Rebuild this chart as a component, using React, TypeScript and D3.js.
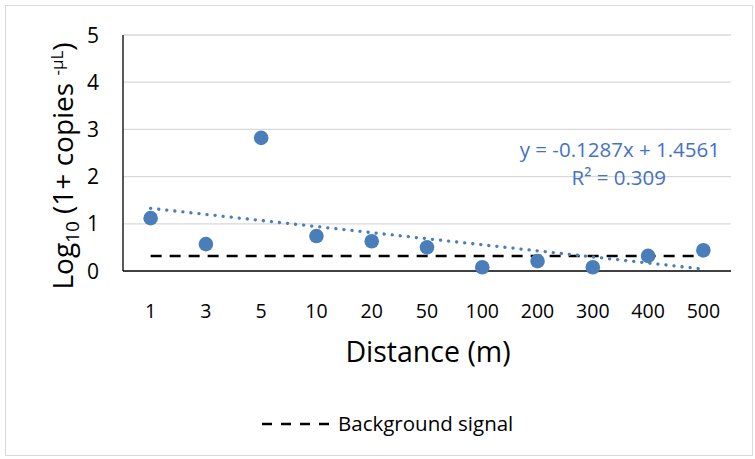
import React from "react";
import * as d3 from "d3";

const categories = ["1", "3", "5", "10", "20", "50", "100", "200", "300", "400", "500"];
const values = [1.12, 0.57, 2.82, 0.74, 0.63, 0.5, 0.08, 0.21, 0.08, 0.32, 0.44];
const background = 0.32;
const yTicks = [0, 1, 2, 3, 4, 5];
const slope = -0.1287;
const intercept = 1.4561;
const eqText = "y = -0.1287x + 1.4561";
const r2Text = "R² = 0.309";

export default function App() {
  const W = 755, H = 459;
  const left = 123, right = 731, top = 35, bottom = 271;
  const font = "'Open Sans', sans-serif";
  const x = d3.scaleBand<string>().domain(categories).range([left, right]);
  const y = d3.scaleLinear().domain([0, 5]).range([bottom, top]);
  const cx = (c: string) => (x(c) as number) + x.bandwidth() / 2;
  const first = categories[0], last = categories[categories.length - 1];
  const trend = d3.line<number>()
    .x((i) => cx(categories[i]))
    .y((i) => y(slope * (i + 1) + intercept));
  const blue = "#4a7ebb";
  const textBlue = "#4472c4";
  return (
    <div style={{ position: "absolute", left: 0, top: 0 }}>
      <svg width={W} height={H} style={{ display: "block" }}>
        <rect x={0} y={0} width={W} height={H} fill="#fff" />
        <rect x={5.5} y={5.5} width={W - 8} height={H - 9} fill="none" stroke="#d9d9d9" />
        {yTicks.map((t) => (
          <g key={t}>
            {t > 0 && <line x1={left} x2={right} y1={y(t)} y2={y(t)} stroke="#d9d9d9" strokeWidth={1.3} />}
            <text x={99} y={y(t)} dy="0.36em" textAnchor="end" fontSize={21} fontFamily={font} fill="#000">{t}</text>
          </g>
        ))}
        <line x1={left} x2={left} y1={top} y2={bottom} stroke="#000" strokeWidth={1.3} />
        <line x1={left} x2={right} y1={bottom} y2={bottom} stroke="#000" strokeWidth={1.3} />
        {categories.map((c) => (
          <text key={c} x={cx(c)} y={311} dy="0.36em" textAnchor="middle" fontSize={19.5} fontFamily={font} fill="#000">{c}</text>
        ))}
        <line x1={cx(first)} x2={cx(last)} y1={y(background)} y2={y(background)} stroke="#000" strokeWidth={2.5} strokeDasharray="11,8" />
        {values.map((v, i) => (
          <circle key={i} cx={cx(categories[i])} cy={y(v)} r={7.3} fill={blue} />
        ))}
        <path d={trend(d3.range(categories.length)) || ""} fill="none" stroke={blue} strokeWidth={3.3} strokeDasharray="0.1,8" strokeLinecap="round" />
        <text x={720} y={150} dy="0.36em" textAnchor="end" fontSize={20.5} fontFamily={font} fill={textBlue}>{eqText}</text>
        <text x={666} y={178} dy="0.36em" textAnchor="end" fontSize={20.5} fontFamily={font} fill={textBlue}>{r2Text}</text>
        <text transform={`translate(73,166) rotate(-90)`} textAnchor="middle" fontSize={28} fontFamily={font} fill="#000">
          Log<tspan fontSize={19} dy={6}>10</tspan><tspan dy={-6}> (1+ copies </tspan><tspan fontSize={17} dy={-10}>-µL</tspan><tspan dy={10}>)</tspan>
        </text>
        <text x={428} y={352} dy="0.36em" textAnchor="middle" fontSize={28.5} fontFamily={font} fill="#000">Distance (m)</text>
        <line x1={262} x2={330} y1={424} y2={424} stroke="#000" strokeWidth={2.5} strokeDasharray="10,9" />
        <text x={338} y={424} dy="0.36em" fontSize={20.5} fontFamily={font} fill="#000">Background signal</text>
      </svg>
    </div>
  );
}
